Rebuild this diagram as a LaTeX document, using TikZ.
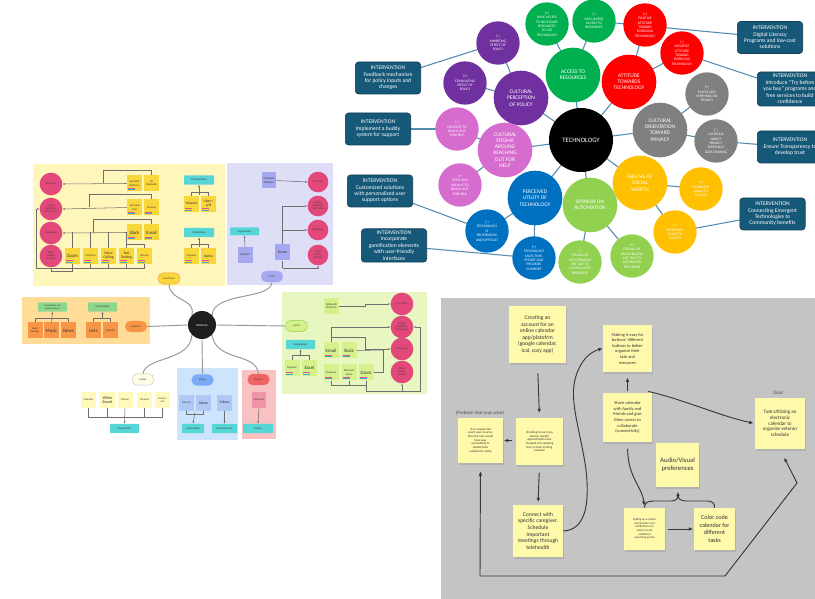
\documentclass[tikz,border=0pt]{standalone}
\usepackage{fontspec}
\setmainfont{Carlito}
\usetikzlibrary{arrows.meta,shadows}

% bubble map colours
\definecolor{cPurple}{RGB}{112,48,160}
\definecolor{cGreen}{RGB}{0,176,80}
\definecolor{cRed}{RGB}{255,0,0}
\definecolor{cGrey}{RGB}{128,128,128}
\definecolor{cPink}{RGB}{214,108,206}
\definecolor{cBlue}{RGB}{0,112,192}
\definecolor{cLGreen}{RGB}{146,208,80}
\definecolor{cGold}{RGB}{255,192,0}
\definecolor{cInt}{RGB}{22,88,120}
\definecolor{cIntDraw}{RGB}{14,60,85}
\definecolor{cLink}{RGB}{84,140,176}
% mind map colours
\definecolor{pYellow}{RGB}{255,246,188}
\definecolor{pLav}{RGB}{222,223,247}
\definecolor{pOrange}{RGB}{255,221,152}
\definecolor{pGreen}{RGB}{232,246,194}
\definecolor{pBlue}{RGB}{206,227,252}
\definecolor{pRed}{RGB}{248,194,194}
\definecolor{mPink}{RGB}{226,72,122}
\definecolor{mYellow}{RGB}{249,214,58}
\definecolor{mTeal}{RGB}{86,214,214}
\definecolor{mPurple}{RGB}{165,168,238}
\definecolor{mOrange}{RGB}{247,150,70}
\definecolor{mGreenBox}{RGB}{140,215,140}
\definecolor{mLime}{RGB}{214,240,140}
\definecolor{mCream}{RGB}{255,250,188}
\definecolor{mBlueNote}{RGB}{175,200,245}
\definecolor{mBluePill}{RGB}{120,170,245}
\definecolor{mRedPill}{RGB}{240,100,100}
\definecolor{mPharm}{RGB}{238,150,165}
\definecolor{mLine}{RGB}{110,110,110}
\definecolor{mSoft}{RGB}{150,150,150}
\definecolor{mTagA}{RGB}{232,80,140}
\definecolor{mTagB}{RGB}{60,170,220}
% board colours
\definecolor{bGrey}{RGB}{196,196,196}
\definecolor{bNote}{RGB}{255,249,172}
\definecolor{bArrow}{RGB}{55,55,55}

\newcommand\fs[2]{\fontsize{#1}{#2}\selectfont}

\pgfdeclarelayer{panels}
\pgfdeclarelayer{links}
\pgfsetlayers{panels,links,main}

\tikzset{
  bub/.style={circle,inner sep=0pt,text=white,align=center},
  bigbub/.style={bub,minimum size=41pt,font=\fs{4.1}{4.7}},
  smallbub/.style={bub,minimum size=32.5pt,font=\fs{2.7}{3.3}},
  interv/.style={rectangle,rounded corners=2.5pt,fill=cInt,draw=cIntDraw,line width=0.5pt,
    text=white,align=center,inner sep=0pt,minimum width=49pt,minimum height=24pt,font=\fs{4.2}{4.8}},
  link/.style={draw=cLink,line width=0.8pt},
  % mind map
  mmcirc/.style={circle,fill=mPink,inner sep=0pt,minimum size=17pt,font=\fs{2}{2.3},align=center,text=black!75},
  mmnote/.style={rectangle,inner sep=0pt,minimum width=11.25pt,minimum height=12pt,font=\fs{2}{2.4},align=center,text=black!80},
  tagged/.style={path picture={
      \fill[mTagB] ([shift={(1pt,1pt)}]path picture bounding box.south west) rectangle ++(5pt,0.8pt);
      \fill[mTagA] ([shift={(1pt,2pt)}]path picture bounding box.south west) rectangle ++(5pt,0.8pt);}},
  mmbig/.style={font=\fs{3.6}{3.8}},
  mmtag/.style={rectangle,rounded corners=0.6pt,fill=mTeal,inner sep=0pt,minimum height=7pt,font=\fs{2}{2.3},text=black!80},
  mmpill/.style={rectangle,rounded corners=4pt,inner sep=0pt,minimum width=16.5pt,minimum height=8.5pt,font=\fs{2}{2.3},text=black!75},
  mmline/.style={draw=mLine,line width=0.4pt},
  mmarr/.style={mmline,-{Latex[length=1.6pt,width=1.5pt]}},
  mmbranch/.style={draw=mSoft,line width=0.7pt},
  % board
  sticky/.style={rectangle,fill=bNote,inner sep=1pt,align=center,text=black!80,
    drop shadow={shadow xshift=0.4pt,shadow yshift=-1.4pt,opacity=0.28}},
  barr/.style={draw=bArrow,line width=0.7pt,-{Latex[length=3.2pt,width=2.8pt]}},
  bline/.style={draw=bArrow,line width=0.7pt},
}

\begin{document}
\begin{tikzpicture}[x=0.75pt,y=-0.75pt]
\useasboundingbox (0,0) rectangle (815,599);

% background, panels and board
\begin{pgfonlayer}{panels}
  \fill[white] (0,0) rectangle (815,599);
  \fill[pYellow] (33,164) rectangle (225,286);
  \fill[pLav] (227,163) rectangle (333,285);
  \fill[pOrange] (22,297) rectangle (150,344);
  \fill[pGreen] (282,292) rectangle (427,394);
  \fill[pBlue] (177,368) rectangle (238,440);
  \fill[pRed] (242,370) rectangle (276,439);
  \fill[bGrey] (441,298) rectangle (815,599);
\end{pgfonlayer}

%======================== technology bubble map ========================
\node[bub,minimum size=48pt,fill=black,font=\fs{5}{5.6}] (tech) at (581,140) {TECHNOLOGY};
\node[bigbub,fill=cGreen] (access) at (573,75) {ACCESS TO\\RESOURCES};
\node[bigbub,fill=cRed] (attitude) at (629,82) {ATTITUDE\\TOWARDS\\TECHNOLOGY};
\node[bigbub,fill=cGrey] (privacy) at (660,130) {CULTURAL\\ORIENTATION\\TOWARD\\PRIVACY};
\node[bigbub,fill=cPurple] (policy) at (521,98) {CULTURAL\\PERCEPTION\\OF POLICY};
\node[bigbub,fill=cPink] (stigma) at (505,150) {CULTURAL\\STIGMA\\AROUND\\REACHING\\OUT FOR\\HELP};
\node[bigbub,fill=cBlue] (utility) at (535,198) {PERCEIVED\\UTILITY OF\\TECHNOLOGY};
\node[bigbub,fill=cLGreen] (auto) at (590,205) {OPINION ON\\AUTOMATION};
\node[bigbub,fill=cGold] (worth) at (640,183) {FEELING OF\\SOCIAL\\WORTH};

\node[smallbub,fill=cPurple] (inhib) at (498,43) {(-)\\INHIBITING\\EFFECT OF\\POLICY};
\node[smallbub,fill=cPurple] (stim) at (465,83) {(+)\\STIMULATING\\EFFECT OF\\POLICY};
\node[smallbub,fill=cGreen] (hasacc) at (547,24) {(+)\\HAVE ACCESS\\TO NECESSARY\\RESOURCES\\TO USE\\TECHNOLOGY};
\node[smallbub,fill=cGreen] (limacc) at (594,21) {(-)\\HAS LIMITED\\ACCESS TO\\RESOURCES};
\node[smallbub,fill=cRed] (posatt) at (645,25) {(+)\\POSITIVE\\ATTITUDE\\TOWARD\\EMERGING\\TECHNOLOGY};
\node[smallbub,fill=cRed] (negatt) at (682,53) {(-)\\NEGATIVE\\ATTITUDE\\TOWARD\\EMERGING\\TECHNOLOGY};
\node[smallbub,fill=cGrey] (lessprv) at (707,94) {(+)\\PLACES LESS\\EMPHASIS ON\\PRIVACY};
\node[smallbub,fill=cGrey] (cautprv) at (716,141) {(-)\\CAUTIOUS\\ABOUT\\PRIVACY\\ESPECIALLY\\DATA SHARING};
\node[smallbub,fill=cPink] (hesit) at (457,129) {(-)\\HESITANT TO\\REACH OUT\\FOR HELP};
\node[smallbub,fill=cPink] (openh) at (460,185) {(+)\\OPEN AND\\WILLING TO\\REACH OUT\\FOR HELP};
\node[smallbub,fill=cBlue] (frust) at (487,231) {(-)\\TECHNOLOGY\\IS\\FRUSTRATING\\AND DIFFICULT};
\node[smallbub,fill=cBlue] (saves) at (534,258) {(+)\\TECHNOLOGY\\SAVES TIME,\\EFFORT AND\\PROVIDES\\COMFORT};
\node[smallbub,fill=cLGreen] (discour) at (580,262) {(-)\\FEELING OF\\DISCOURAGEM\\ENT DUE TO\\COMPLICATED\\PROCESSES};
\node[smallbub,fill=cLGreen] (encour) at (632,256) {(+)\\FEELING OF\\ENCOURAGEM\\ENT DUE TO\\AUTOMATED\\PROCESSES};
\node[smallbub,fill=cGold] (incr) at (701,189) {(+)\\INCREASED\\VALUE TO\\SOCIETY};
\node[smallbub,fill=cGold] (decr) at (675,232) {(-)\\DECREASED\\VALUE TO\\SOCIETY};

\node[interv] (fb) at (388,78) {INTERVENTION\\Feedback mechanism\\for policy inputs and\\changes};
\node[interv] (buddy) at (378,129) {INTERVENTION\\Implement a buddy\\system for support};
\node[interv] (cust) at (380,191) {INTERVENTION\\Customized solutions\\with personalized user\\support options};
\node[interv,minimum height=25pt] (gami) at (394,245.5) {INTERVENTION\\Incorporate\\gamification elements\\with user-friendly\\interfaces};
\node[interv] (digit) at (770,37.5) {INTERVENTION\\Digital Literacy\\Programs and low-cost\\solutions};
\node[interv,minimum height=25.5pt] (tryb) at (790,89) {INTERVENTION\\Introduce ``Try before\\you buy'' programs and\\free services to build\\confidence};
\node[interv] (transp) at (790,147) {INTERVENTION\\Ensure Transparency to\\develop trust};
\node[interv] (conn) at (772.5,214) {INTERVENTION\\Connecting Emergent\\Technologies to\\Community benefits};

\begin{pgfonlayer}{links}
  \foreach \a/\b in {fb/inhib,inhib/policy,stim/policy,policy/tech,hasacc/access,limacc/access,
      access/tech,limacc/digit,posatt/attitude,negatt/attitude,negatt/tryb,attitude/tech,
      lessprv/privacy,cautprv/privacy,cautprv/transp,privacy/tech,worth/tech,incr/worth,
      decr/worth,decr/conn,auto/tech,discour/auto,encour/auto,utility/tech,frust/utility,
      saves/utility,cust/frust,gami/saves,stigma/tech,hesit/stigma,openh/stigma,buddy/hesit}
    \draw[link] (\a.center) -- (\b.center);
\end{pgfonlayer}

%======================== veterans mind map ========================
\node[circle,fill=black!88,minimum size=21pt,inner sep=0pt,text=white,font=\fs{2.4}{2.6}] (vet) at (202,325) {Veterans};

% yellow group
\node[mmcirc] (y1) at (51,184) {Providers};
\node[mmcirc] (y2) at (51,209) {Family,\\Neighbors,\\Community};
\node[mmcirc] (y3) at (51,233) {Colleagues};
\node[mmcirc] (y4) at (51,256) {Other\\Family,\\Friends};
\node[mmnote,fill=mYellow,tagged] (ya) at (134.5,183.5) {Specialist\\Platforms};
\node[mmnote,fill=mYellow] (yb) at (151.5,183.5) {VA\\Telehealth};
\node[mmnote,fill=mYellow,tagged] (yc) at (134.5,207.5) {Tech Hub\\Grid};
\node[mmnote,fill=mYellow,tagged] (yd) at (151.5,207.5) {Meetup};
\node[mmnote,fill=mYellow,mmbig,tagged] (ye) at (134.5,232.5) {Slack};
\node[mmnote,fill=mYellow,mmbig,tagged] (yf) at (151.5,232.5) {Email};
\node[mmnote,fill=mYellow,mmbig,tagged] (yg) at (72.5,256) {Zoom};
\node[mmnote,fill=mYellow,tagged] (yh) at (90.5,256) {FaceTime};
\node[mmnote,fill=mYellow,font=\fs{2.8}{3},tagged] (yi) at (108.5,256) {Voice\\Calling};
\node[mmnote,fill=mYellow,font=\fs{2.8}{3},tagged] (yj) at (126.5,256) {Text\\Texting};
\node[mmnote,fill=mYellow,tagged] (yk) at (144.5,256) {iPhones};
\node[mmtag,minimum width=22.5pt] (ytr) at (199,180) {Transportation};
\node[mmnote,fill=mYellow,font=\fs{2.8}{3},tagged] (ywa) at (191.5,204) {Waymo};
\node[mmnote,fill=mYellow,font=\fs{2.8}{3},tagged] (yub) at (208.5,204) {Uber /\\Lyft};
\node[mmtag,minimum width=22.5pt] (yorg) at (199,232.5) {Organization};
\node[mmnote,fill=mYellow,tagged] (ycal) at (191.5,256) {Calendar};
\node[mmnote,fill=mYellow,font=\fs{2.8}{3},tagged] (ynot) at (208.5,256) {Notes};
\node[mmpill,fill=mYellow,draw=mOrange,line width=0.3pt] (ypill) at (169,278.5) {Emotional};

\draw[mmarr] (ya.west) -- (y1.east);
\draw[mmline] (yb.north) |- (103,170) -- (103,183.5);
\draw[mmarr] (yc.west) -- (y2.east);
\draw[mmline] (yd.north) |- (89,194) -- (89,207.5);
\draw[mmarr] (ye.west) -- (y3.east);
\draw[mmline] (yf.north) |- (93,219) -- (93,232.5);
\foreach \n in {yg,yh,yi,yj} \draw[mmline] (\n.north) -- (\n.north |- ye.west);
\draw[mmline] (yk.north) -- (144.5,244) -- (126.5,244);
\draw[mmline] (yg.south) -- (72.5,268) -- (144.5,268) -- (yk.south);
\foreach \n in {yh,yi,yj} \draw[mmline] (\n.south) -- (\n.south |- 0,268);
\draw[mmline] (72.5,268) -- (36,268) -- (36,209);
\draw[mmarr] (36,209) -- (y2.west);
\draw[mmline] (y4.south) -- (51,271) -- (72.5,271) -- (72.5,268);
\draw[mmline] (ywa.north) -- ++(0,-3) -| (yub.north);
\draw[mmarr] (199,195) -- (ytr.south);
\draw[mmline] (ycal.north) -- ++(0,-3) -| (ynot.north);
\draw[mmarr] (199,247) -- (yorg.south);

% lavender group
\node[mmcirc,minimum size=15.5pt] (l1) at (318,182) {Providers};
\node[mmcirc,minimum size=15.5pt] (l2) at (318,206) {Family,\\Neighbors,\\Community};
\node[mmcirc,minimum size=15.5pt] (l3) at (318,230) {Colleagues};
\node[mmcirc,minimum size=15.5pt] (l4) at (318,255) {Other\\Family,\\Friends};
\node[mmnote,fill=mPurple,minimum width=10.5pt] (ltel) at (269,180.5) {Telehealth\\Platforms};
\node[mmnote,fill=mPurple,font=\fs{3}{3.2}] (lzoom) at (282.5,252.5) {Zoom};
\node[mmnote,fill=mPurple] (lcal) at (245,255) {Calendar};
\node[mmtag,minimum width=21.75pt,minimum height=6pt] (lorg) at (244.5,231.5) {Organization};
\node[mmpill,fill=mPurple] (lpill) at (272,276.5) {Vision};
\draw[mmarr] (ltel.east) -- (l1.west);
\draw[mmline] (282.5,206) -- (lzoom.north);
\draw[mmarr] (282.5,206) -- (l2.west);
\draw[mmarr] (282.5,230) -- (l3.west);
\draw[mmline] (lzoom.south) -- (282.5,268);
\draw[mmarr] (282.5,268) -| (l4.south);
\draw[mmarr] (lcal.north) -- (lorg.south);

% orange group
\node[mmtag,fill=mGreenBox,minimum width=21.75pt,align=center,font=\fs{1.8}{2}] (oacc) at (52.5,307) {Accessibility and\\entertainment};
\node[mmtag,fill=mGreenBox,minimum width=21.75pt] (oorg) at (102.5,307) {Organization};
\node[mmnote,fill=mOrange] (oroad) at (35,330.5) {Road\\Settings};
\node[mmnote,fill=mOrange,mmbig] (omus) at (51.5,330.5) {Music};
\node[mmnote,fill=mOrange,mmbig] (onews) at (68.5,330.5) {News};
\node[mmnote,fill=mOrange,mmbig] (olist) at (93.5,330.5) {Lists};
\node[mmnote,fill=mOrange] (ocal) at (110.5,330.5) {Calendar};
\node[mmpill,fill=mOrange] (opill) at (136,326.5) {Cognition};
\draw[mmline] (oroad.north) -- ++(0,-4) -| (onews.north);
\draw[mmarr] (omus.north) -- (oacc.south);
\draw[mmline] (olist.north) -- ++(0,-4) -| (ocal.north);
\draw[mmarr] (102.5,319) -- (oorg.south);

% white group
\node[mmpill,fill=white!60!mCream,draw=black!25,line width=0.3pt] (wpill) at (143,379.5) {Hobby};
\node[mmnote,fill=mCream] (wcal) at (88.5,400) {Calendar};
\node[mmnote,fill=mCream,font=\fs{3}{3.3}] (wwb) at (107.5,400) {White\\Board};
\node[mmnote,fill=mCream] (wpl) at (125,400) {Planner};
\node[mmnote,fill=mCream] (wtl) at (144.5,400) {Timeline};
\node[mmnote,fill=mCream] (wgl) at (162.5,400) {Grocery\\List};
\node[mmtag,minimum width=21.75pt] (worg) at (124.5,428.5) {Organization};
\draw[mmline] (wcal.south) -- (88.5,417) -- (162.5,417) -- (wgl.south);
\draw[mmline] (wwb.south) -- (107.5,417);
\draw[mmline] (wtl.south) -- (144.5,417);
\draw[mmarr] (wpl.south) -- (worg.north);

% blue group
\node[mmpill,fill=mBluePill] (bpill) at (202.5,380) {Media};
\node[mmnote,fill=mBlueNote] (bint) at (186.5,403) {Internet};
\node[mmnote,fill=mBlueNote,font=\fs{3}{3.2}] (bnews) at (203.5,403) {News};
\node[mmnote,fill=mBlueNote,font=\fs{2.8}{3}] (bvid) at (224.5,402.5) {Videos};
\node[mmtag,minimum width=16.5pt] (binf) at (193,428.5) {Information};
\node[mmtag,minimum width=18.75pt] (bent) at (224.5,428.5) {Entertainment};
\draw[mmline] (bint.south) -- ++(0,3) -| (bnews.south);
\draw[mmarr] (195,412) -- (binf.north);
\draw[mmarr] (bvid.south) -- (bent.north);

% red group
\node[mmpill,fill=mRedPill] (rpill) at (258.5,379.5) {Physical};
\node[mmnote,fill=mPharm,minimum width=10.5pt] (rpharm) at (259,400) {Pharmacy};
\node[mmtag,minimum width=22.5pt] (rhealth) at (258,428.5) {Health};
\draw[mmarr] (rpharm.south) -- (rhealth.north);

% green group
\node[mmpill,fill=mLime,draw=cLGreen,line width=0.3pt] (gpill) at (296.5,326) {Social};
\node[mmcirc] (g1) at (402,304) {Providers};
\node[mmcirc] (g2) at (402,327) {Family,\\Neighbors,\\Community};
\node[mmcirc] (g3) at (402,349) {Colleagues};
\node[mmcirc] (g4) at (402,372) {Other\\Family,\\Friends};
\node[mmnote,fill=mLime] (gtel) at (331.5,306) {Telehealth\\Platforms};
\node[mmnote,fill=mLime,mmbig,tagged] (gemail) at (331,350.5) {Email};
\node[mmnote,fill=mLime,mmbig,tagged] (gslack) at (349,350.5) {Slack};
\node[mmnote,fill=mLime,tagged] (gfb) at (331,372.5) {Facebook};
\node[mmnote,fill=mLime,tagged] (gteams) at (349,372.5) {Microsoft\\Teams};
\node[mmnote,fill=mLime,mmbig,tagged] (gzoom) at (366,372.5) {Zoom};
\node[mmtag,minimum width=21.75pt] (gorg) at (300.5,344.5) {Organization};
\node[mmnote,fill=mLime,tagged] (gcal) at (292,368) {Calendar};
\node[mmnote,fill=mLime,mmbig,tagged] (gexc) at (309.5,368) {Excel};
\draw[mmarr] (gtel.east) -- (365,306) |- (g1.west);
\draw[mmarr] (gemail.north) |- (g2.west);
\draw[mmline] (331,337) -- (365,337) -- (365,349);
\draw[mmarr] (365,349) -- (g3.west);
\draw[mmline] (gslack.east) -- (383,350);
\draw[mmline] (gzoom.east) -| (383,350);
\draw[mmline] (gfb.south) -- (331,385) -- (366,385);
\draw[mmline] (gteams.south) -- (349,385);
\draw[mmline] (gzoom.south) -- (366,391) -- (420,391) -- (420,327);
\draw[mmarr] (420,327) -- (g2.east);
\draw[mmarr] (402,391) -- (g4.south);
\draw[mmline] (gcal.north) -- ++(0,-4) -| (gexc.north);
\draw[mmarr] (300.5,356) -- (gorg.south);

% branches from the central node
\draw[mmbranch] (vet.north west) .. controls (196,298) and (170,302) .. (ypill.south);
\draw[mmbranch] (vet.north east) .. controls (214,292) and (270,300) .. (lpill.south);
\draw[mmbranch] (vet.west) -- (opill.east);
\draw[mmbranch] (vet.east) -- (gpill.west);
\draw[mmbranch] (vet.south west) .. controls (190,362) and (146,356) .. (wpill.north);
\draw[mmbranch] (vet.south) -- (bpill.north);
\draw[mmbranch] (vet.south east) .. controls (216,362) and (256,352) .. (rpill.north);

%======================== calendar planning board ========================
\node[sticky,minimum width=42.75pt,minimum height=42.75pt,font=\fs{4.2}{4.9}] (creat) at (537.5,334.5)
  {Creating an\\account for an\\online calendar\\app/platofrm\\(google calendar,\\ical, cozy app)};
\node[sticky,minimum width=36.75pt,minimum height=35.25pt,font=\fs{3.3}{4.2}] (making) at (627.5,348.5)
  {Making it easy for\\buttons' different\\buttons to better\\organize their\\task and\\resources};
\node[sticky,minimum width=36.75pt,minimum height=36.75pt,font=\fs{3.3}{4.2}] (share) at (627.5,417.5)
  {Share calendar\\with family and\\friends and give\\them access to\\collaborate\\(connectivity)};
\node[sticky,minimum width=33.75pt,minimum height=33.75pt,font=\fs{2.3}{2.75}] (unexp) at (480.5,440.5)
  {If an unexpected\\event were to arise,\\then the user would\\have easy\\accessibility to\\update their\\calendar for today};
\node[sticky,minimum width=35.25pt,minimum height=35.25pt,font=\fs{2.3}{2.75}] (check) at (539.5,441.5)
  {Checking to see if any\\veteran specific\\appointments have\\changed and updating\\that on their existing\\calendar};
\node[sticky,minimum width=37.5pt,minimum height=39pt,font=\fs{4.2}{5}] (connect) at (538,531)
  {Connect with\\specific caregiver.\\Schedule\\important\\meetings through\\telehealth};
\node[sticky,minimum width=32.25pt,minimum height=33pt,font=\fs{5}{6.2}] (audio) at (677.5,465)
  {Audio/Visual\\preferences};
\node[sticky,minimum width=30.75pt,minimum height=31.5pt,font=\fs{2.2}{2.7}] (setting) at (644.5,529)
  {Setting up a system\\of reminders and\\notifications for\\veteran to be\\notified of\\upcoming events};
\node[sticky,minimum width=30.75pt,minimum height=31.5pt,font=\fs{4.6}{5.8}] (color) at (714.5,529)
  {Color code\\calendar for\\different\\tasks};
\node[sticky,minimum width=37.5pt,minimum height=38.25pt,font=\fs{3.8}{4.3}] (task) at (780,423.5)
  {Task-Utilizing an\\electronic\\calendar to\\organize veteran\\schedule};
\node[text=black!70,font=\fs{3.6}{4}] (problem) at (480,413) {(Problem that may arise)};
\node[text=black!70,font=\fs{3.8}{4}] (goal) at (778,393) {Goal};

\draw[barr,shorten <=7.5pt,shorten >=3.5pt] (creat.south) -- (check.north);
\draw[barr,shorten <=2.5pt,shorten >=0.5pt] (check.west |- unexp.east) -- (unexp.east);
\draw[barr,shorten <=5.5pt,shorten >=2pt] (check.south) -- (connect.north);
\draw[barr] (connect.east) .. controls (585,530) and (590,505) .. (586,470)
  .. controls (581,432) and (568,400) .. (576,376) .. controls (581,360) and (590,352) .. (making.west);
\draw[barr,shorten <=1pt,shorten >=4pt] (share.north) -- (making.south);
\draw[barr,shorten >=1pt] ([xshift=-3pt,yshift=1pt]share.north east) .. controls (685,400) and (720,416) .. (task.west);
\draw[barr,shorten <=5pt,shorten >=1.5pt] (share.south) .. controls (628,478) and (642,486) .. (setting.north);
\draw[bline] (setting.north) .. controls (645,501) and (649,501) .. (657,501) -- (671,501)
  .. controls (676,501) and (678,499) .. (678,495)
  .. controls (678,499) and (681,501) .. (686,501) -- (707,501)
  .. controls (712,501) and (715,503) .. (color.north);
\draw[barr,shorten >=3.5pt] (678,496) -- (audio.south);
\draw[barr,shorten <=2pt,shorten >=0.5pt] (setting.east) -- (color.west);
\coordinate (lowleft) at (480,576);
\coordinate (lowright) at (725,576);
\coordinate (rightbend) at (797,483);
\draw[bline,{Latex[length=3.2pt,width=2.8pt]}-{Latex[length=3.2pt,width=2.8pt]},shorten <=6pt,shorten >=7pt]
  (unexp.south) -- (lowleft) -- (lowright) -- (rightbend) -- (task.south);
\end{tikzpicture}
\end{document}
